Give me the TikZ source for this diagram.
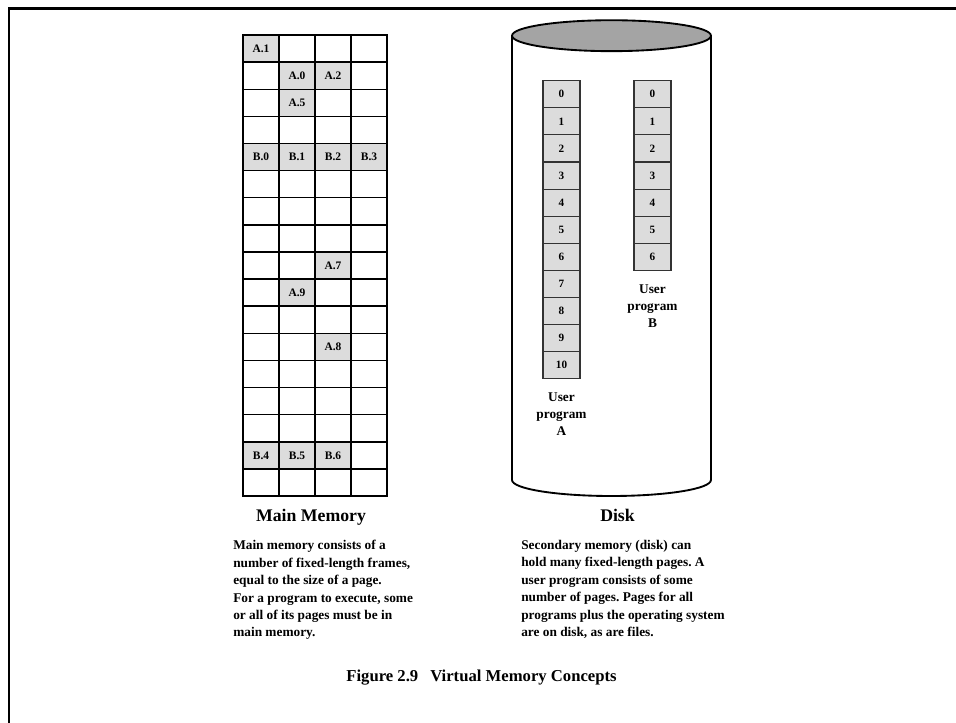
\documentclass[tikz,border=0pt]{standalone}
\usepackage{fontspec}
\setmainfont{Liberation Serif}
\usetikzlibrary{positioning}

\definecolor{pagegray}{HTML}{DCDCDC}
\definecolor{lidgray}{HTML}{A4A4A4}
\frenchspacing

\begin{document}
\begin{tikzpicture}[x=0.75pt,y=-0.75pt,
  frame/.style={draw, line width=1.1pt, minimum width=27pt, minimum height=20.34pt,
    inner sep=0pt, font=\fontsize{8.6}{9}\selectfont\bfseries},
  used/.style={fill=pagegray},
  page/.style={draw=black!80, line width=0.8pt, fill=pagegray, minimum width=27.75pt,
    minimum height=20.3pt, inner sep=0pt, font=\fontsize{8.4}{9}\selectfont\bfseries},
  title/.style={font=\fontsize{13.3}{15}\selectfont\bfseries},
  note/.style={align=left, anchor=north west, inner sep=0pt,
    font=\fontsize{10}{13.1}\selectfont\bfseries},
  prog/.style={align=center, inner sep=0pt, font=\fontsize{10}{12.8}\selectfont\bfseries}]

\useasboundingbox (0,0) rectangle (956,723);

% outer border
\draw[line width=1.6pt] (9,723) -- (9,8.5) -- (956,8.5);

% main memory frames
\foreach \r in {1,...,17}
  \foreach \c in {1,...,4}
    \node[frame] (m-\r-\c) at ({225+36*\c},{21.44+27.12*\r}) {};

% occupied frames
\foreach \r/\c/\t in {1/1/A.1, 2/2/A.0, 2/3/A.2, 3/2/A.5,
    5/1/B.0, 5/2/B.1, 5/3/B.2, 5/4/B.3,
    9/3/A.7, 10/2/A.9, 12/3/A.8,
    16/1/B.4, 16/2/B.5, 16/3/B.6}
  \node[frame, used] at (m-\r-\c) {\t};

\node[title] (mmtitle) at (311,517) {Main Memory};
\node[note] (mmnote) at (233,540) {Main memory consists of a\\
  number of fixed-length frames,\\
  equal to the size of a page.\\
  For a program to execute, some\\
  or all of its pages must be in\\
  main memory.};

% disk cylinder
\draw[line width=1.4pt, fill=white] (512,35.7) -- (512,480)
  arc[start angle=180, end angle=360, x radius=74.6pt, y radius=12pt]
  -- (711,35.7);
\draw[line width=1.4pt, fill=lidgray] (611.5,35.7) ellipse [x radius=74.6pt, y radius=11.6pt];

% pages of user program A and B
\foreach \i in {0,...,10}
  \node[page] (a\i) at (561.5,{94.25+27.1*\i}) {\i};
\foreach \i in {0,...,6}
  \node[page] (b\i) at (652.5,{94.25+27.1*\i}) {\i};

\node[prog, below=10pt of a10] (proga) {User\\program\\A};
\node[prog, below=10pt of b6] (progb) {User\\program\\B};

\node[title] (disktitle) at (617.5,515) {Disk};
\node[note] (disknote) at (521,540) {Secondary memory (disk) can\\
  hold many fixed-length pages. A\\
  user program consists of some\\
  number of pages. Pages for all\\
  programs plus the operating system\\
  are on disk, as are files.};

% caption
\node[font=\fontsize{12.5}{14}\selectfont\bfseries] (caption) at (481.5,678)
  {Figure 2.9\hspace{9pt}Virtual Memory Concepts};

\end{tikzpicture}
\end{document}
